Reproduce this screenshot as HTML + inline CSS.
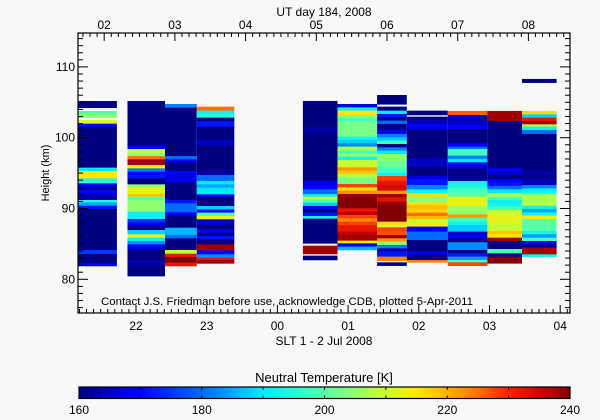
<!DOCTYPE html>
<html><head><meta charset="utf-8"><style>
html,body{margin:0;padding:0;background:#f8f8f8}
svg{display:block;font-family:"Liberation Sans",sans-serif}
</style></head><body>
<svg id="chart" width="600" height="420" viewBox="0 0 600 420" xmlns="http://www.w3.org/2000/svg">
<rect x="0" y="0" width="600" height="420" fill="#f8f8f8"/>
<g id="cells"></g>
<g id="axes"></g>
<text x="324" y="16" font-size="12" text-anchor="middle">UT day 184, 2008</text>
<text x="324" y="345" font-size="12" text-anchor="middle">SLT 1 - 2 Jul 2008</text>
<text transform="translate(49,173) rotate(-90)" font-size="11" text-anchor="middle">Height (km)</text>
<text x="101" y="305" font-size="11" textLength="372" lengthAdjust="spacingAndGlyphs">Contact J.S. Friedman before use, acknowledge CDB, plotted 5-Apr-2011</text>
<text x="324" y="382" font-size="13" text-anchor="middle">Neutral Temperature [K]</text>
<g id="cbar"></g>
</svg>
<script>
// column time extents (SLT hours, >24 means next day)
const colStart = [21.1, 21.88, 22.41, 22.86, 24.36, 24.85, 25.41, 25.83, 26.41, 26.97, 27.46];
const colEnd   = [21.73, 22.41, 22.86, 23.39, 24.85, 25.41, 25.83, 26.41, 26.97, 27.46, 27.95];
// altitude boundaries (km) per column, top to bottom
const alt1 = [105.18,104.24,103.77,103.30,102.83,102.50,101.98,101.56,95.77,95.30,94.26,93.55,93.08,92.61,92.00,91.20,90.87,90.40,89.93,84.14,83.57,82.25,81.88];
const tmp1 = [160,null,200,205,null,212,170,160,190,215,195,170,160,170,163,195,185,172,160,175,160,170];
const alt2 = [105.18,98.87,98.40,97.93,97.41,96.94,96.14,95.67,95.20,94.73,94.26,93.41,92.99,92.05,91.67,91.20,89.55,88.52,88.05,87.57,86.96,86.35,85.88,85.41,84.94,84.14,82.73,81.92,80.46];
const tmp2 = [160,170,210,205,225,238,215,182,170,172,160,205,213,218,200,205,192,175,170,160,188,213,192,183,168,160,163,160];
const alt3 = [104.76,104.24,97.41,96.94,96.47,95.30,94.82,93.69,91.20,90.73,89.46,88.99,87.29,86.26,85.79,84.14,83.62,83.15,82.35,81.88];
const tmp3 = [182,160,180,168,160,170,168,160,172,180,170,160,186,180,160,210,232,240,232];
const alt4 = [104.38,103.82,103.35,102.83,102.36,101.56,99.67,98.87,95.30,94.73,93.88,93.41,92.94,92.00,91.67,90.35,89.88,89.41,88.94,88.47,87.67,87.06,86.59,86.12,85.64,84.94,84.09,83.53,83.05,82.73,82.25];
const tmp4 = [225,192,195,160,172,160,165,160,163,180,190,185,190,170,160,188,172,200,213,165,160,170,160,172,160,238,170,183,232,238];
const alt5 = [105.19,101.42,100.62,93.93,93.32,92.71,92.05,91.67,91.30,90.83,90.36,89.88,89.41,88.94,88.57,85.08,84.75,83.58,83.34,82.73];
const tmp5 = [160,163,160,168,170,180,190,210,200,188,170,160,172,193,160,null,238,null,160];
const alt6 = [104.76,104.29,103.82,103.21,102.74,102.27,100.15,99.68,99.21,98.74,98.17,97.79,97.32,96.85,95.82,95.35,94.88,94.40,93.46,92.99,92.52,92.05,91.67,90.03,89.56,89.08,88.61,88.14,87.67,86.73,86.26,85.46,85.08,84.61,84.14];
const tmp6 = [168,192,215,205,198,203,193,188,183,207,198,205,193,210,222,218,208,203,228,216,223,238,240,232,236,228,223,228,232,236,238,214,170,186];
const alt7 = [106.03,104.72,104.39,103.82,103.35,102.88,102.41,101.94,101.18,100.53,100.05,99.58,99.11,98.64,98.17,97.70,96.76,95.82,95.06,94.59,93.93,93.32,92.52,92.05,91.58,90.97,90.50,88.14,87.67,87.34,86.73,86.26,85.79,85.32,84.85,84.38,83.91,83.20,82.63,82.40,81.93];
const tmp7 = [160,null,160,190,172,160,180,160,168,182,188,198,160,182,190,205,202,198,192,228,232,234,222,238,233,238,240,216,210,228,227,238,222,205,182,163,172,224,null,160];
const alt8 = [103.82,103.21,102.97,102.41,101.94,101.56,101.09,97.09,95.91,94.59,94.12,93.32,92.71,92.15,91.67,90.83,90.45,89.88,89.41,88.94,88.47,88.00,87.44,86.73,85.55,83.91,83.43,82.73,82.40];
const tmp8 = [160,null,160,165,170,167,160,165,160,168,172,182,192,216,205,216,219,217,225,219,210,214,170,180,160,168,160,224];
const alt9 = [103.78,103.21,102.74,102.27,101.80,101.23,99.21,98.74,98.41,97.47,97.00,96.52,96.05,95.58,94.74,93.89,93.42,92.85,92.38,91.67,91.20,90.36,89.79,89.18,88.71,88.14,87.67,86.73,86.26,85.79,85.23,84.14,83.67,83.20,82.73,82.40,81.93];
const tmp9 = [226,168,164,166,170,160,170,180,198,182,190,170,165,160,162,192,194,198,200,212,213,206,205,222,198,192,188,166,170,160,183,160,172,184,198,228];
const alt10 = [103.78,102.36,95.68,95.21,94.74,94.17,93.70,93.18,92.71,92.15,91.67,91.20,90.73,90.26,89.79,89.18,88.52,87.77,87.30,86.83,86.36,85.88,85.41,84.28,83.67,83.20,82.26];
const tmp10 = [238,160,170,166,160,170,172,180,190,208,199,192,193,199,210,213,212,209,210,218,215,238,160,199,160,240];
const alt11 = [108.30,107.78,103.78,103.30,102.83,102.36,101.89,101.56,101.09,100.53,95.21,94.74,94.27,93.32,92.85,92.38,92.01,91.35,90.87,90.40,89.93,89.46,88.99,88.52,86.83,86.36,85.88,85.41,84.94,84.47,83.53,83.20];
const tmp11 = [160,null,216,188,232,238,208,192,180,160,163,160,164,182,190,194,208,207,209,192,185,193,214,200,193,184,199,170,160,238,192];
const alts = [alt1,alt2,alt3,alt4,alt5,alt6,alt7,alt8,alt9,alt10,alt11];
const temps = [tmp1,tmp2,tmp3,tmp4,tmp5,tmp6,tmp7,tmp8,tmp9,tmp10,tmp11];
const yTicks = [80, 90, 100, 110];
const xTicks = [22, 23, 24, 25, 26, 27, 28];
const xTickLabels = ["22","23","00","01","02","03","04"];
const utTicks = [2,3,4,5,6,7,8];
const utTickLabels = ["02","03","04","05","06","07","08"];
const cbTicks = [160,180,200,220,240];

const NS = "http://www.w3.org/2000/svg";
const L = 78, R = 570, T = 33, B = 313;
const utOffset = 4.45;
function xS(h){ return 136 + (h - 22) * 70.7; }
function yS(km){ return 279.3 - (km - 80) * 7.08; }
const stops = [[160,[0,0,128]],[170,[0,0,255]],[182,[0,128,255]],[190,[0,235,255]],[198,[64,255,192]],[205,[144,255,112]],[210,[200,255,48]],[215,[255,232,0]],[220,[255,176,0]],[225,[255,112,0]],[230,[255,32,0]],[236,[192,0,0]],[240,[128,0,0]]];
function cmap(v){
  v = Math.max(160, Math.min(240, v));
  for (let i = 0; i < stops.length - 1; i++) {
    const a = stops[i], b = stops[i+1];
    if (v <= b[0]) { const t = (v - a[0]) / (b[0] - a[0]);
      const c = a[1].map((x, k) => Math.round(x + (b[1][k] - x) * t));
      return "rgb(" + c.join(",") + ")"; }
  }
  return "rgb(128,0,0)";
}
function mk(tag, attrs, parent){ const e = document.createElementNS(NS, tag); for (const k in attrs) e.setAttribute(k, attrs[k]); parent.appendChild(e); return e; }

const cells = document.getElementById("cells");
const clip = mk("clipPath", {id:"pc"}, cells);
mk("rect", {x:L, y:T, width:R-L, height:B-T}, clip);
cells.setAttribute("clip-path", "url(#pc)");
for (let c = 0; c < alts.length; c++) {
  const a = alts[c], t = temps[c];
  for (let i = 0; i < t.length; i++) {
    if (t[i] === null) continue;
    const y0 = yS(a[i]), y1 = yS(a[i+1]);
    const r = mk("rect", {x:xS(colStart[c]).toFixed(1), y:y0.toFixed(2), width:(xS(colEnd[c]) - xS(colStart[c])).toFixed(1), height:(y1 - y0 + 0.3).toFixed(2), fill:cmap(t[i])}, cells);
    
    
  }
}

const ax = document.getElementById("axes");
const frame = mk("rect", {x:L, y:T, width:R-L, height:B-T, fill:"none", stroke:"#000", "stroke-width":1.2}, ax);


// y minor/major ticks
for (let km = 76; km <= 114; km++) {
  const y = yS(km), len = km % 10 === 0 ? 10 : 5;
  mk("line", {x1:L, x2:L+len, y1:y, y2:y, stroke:"#000"}, ax);
  mk("line", {x1:R, x2:R-len, y1:y, y2:y, stroke:"#000"}, ax);
}
for (const v of yTicks) {
  const t = mk("text", {x:75, y:yS(v)+4, "font-size":12, "text-anchor":"end"}, ax);
  t.textContent = v;
  
  
}
// bottom ticks
for (let k = Math.ceil((21.18) * 10); k / 10 <= 28.14; k++) {
  const h = k / 10, x = xS(h), len = k % 10 === 0 ? 8 : 4;
  mk("line", {x1:x, x2:x, y1:B, y2:B-len, stroke:"#000"}, ax);
}
xTicks.forEach((h, i) => {
  const t = mk("text", {x:xS(h), y:330, "font-size":12, "text-anchor":"middle"}, ax);
  t.textContent = xTickLabels[i];
  
  
});
// top UT ticks
for (let k = Math.ceil((21.18 + utOffset) * 10); k / 10 <= 28.14 + utOffset; k++) {
  const x = xS(k / 10 - utOffset), len = k % 10 === 0 ? 8 : 4;
  mk("line", {x1:x, x2:x, y1:T, y2:T+len, stroke:"#000"}, ax);
}
utTicks.forEach((u, i) => {
  const t = mk("text", {x:xS(u + 24 - utOffset), y:29, "font-size":12, "text-anchor":"middle"}, ax);
  t.textContent = utTickLabels[i];
  
  
});

// colorbar
const cb = document.getElementById("cbar");
const cx = v => 79 + (v - 160) * (570 - 79) / 80;
for (let v = 160; v < 240; v += 0.5) {
  mk("rect", {x:cx(v).toFixed(2), y:387, width:3.3, height:11.5, fill:cmap(v + 0.25)}, cb);
}
mk("rect", {x:79, y:387, width:491, height:11.5, fill:"none", stroke:"#000", "stroke-width":1.2}, cb);
for (let v = 170; v < 240; v += 10) {
  mk("line", {x1:cx(v), x2:cx(v), y1:387, y2:390, stroke:"#000"}, cb);
  mk("line", {x1:cx(v), x2:cx(v), y1:398.5, y2:395.5, stroke:"#000"}, cb);
}
for (const v of cbTicks) {
  const t = mk("text", {x:cx(v), y:414, "font-size":12, "text-anchor":"middle"}, cb);
  t.textContent = v;
  
  
}
</script>
</body></html>
